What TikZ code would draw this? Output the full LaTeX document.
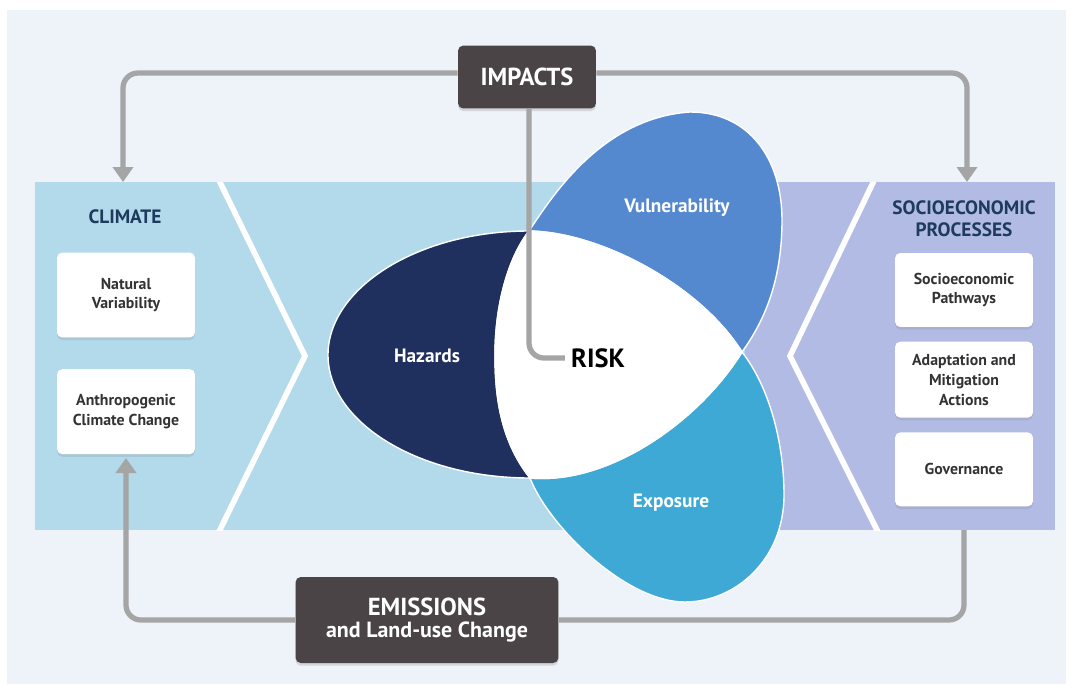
\documentclass[tikz,border=0pt]{standalone}
\usepackage{fontspec}
\setmainfont{PT Sans}
\usepackage{tikz}
\usetikzlibrary{arrows.meta,positioning,shadows}
\definecolor{panelbg}{HTML}{EEF2F9}
\definecolor{bandblue}{HTML}{B2DAEB}
\definecolor{bandlav}{HTML}{B1BBE4}
\definecolor{hazcol}{HTML}{1F2F5E}
\definecolor{vulcol}{HTML}{5589CF}
\definecolor{expcol}{HTML}{3EA9D5}
\definecolor{darkbox}{HTML}{4A4446}
\definecolor{linegray}{HTML}{A5A5A5}
\definecolor{titlecol}{HTML}{1E3A5C}
\definecolor{txtcol}{HTML}{333333}
\tikzset{
  blk/.style={fill=white, rounded corners=3pt, align=center, text=txtcol, minimum width=2.76cm,
    font=\bfseries\fontsize{9}{11.3}\selectfont, drop shadow={opacity=0.2, shadow xshift=0pt, shadow yshift=-1.5pt}},
  dark/.style={fill=darkbox, rounded corners=3pt, align=center, text=white,
    drop shadow={opacity=0.25, shadow xshift=0pt, shadow yshift=-1.5pt}},
  ttl/.style={font=\bfseries\fontsize{11}{12.5}\selectfont, text=titlecol, align=center},
  lbl/.style={font=\bfseries\fontsize{11}{13}\selectfont, text=white},
  petal/.style={draw=white, line width=0.8pt},
  chev/.style={draw=white, line width=3.2pt},
  ln/.style={draw=linegray, line width=3pt, rounded corners=0.3cm},
  fl/.style={ln, -{Triangle[length=0.3cm,width=0.4cm]}},
}
\begin{document}
\begin{tikzpicture}[x=0.02cm, y=-0.02cm]
\useasboundingbox (0,0) rectangle (1075,690);
\fill[white] (0,0) rectangle (1075,690);
\fill[panelbg] (7,10) rectangle (1066,684);
% bands
\fill[bandblue] (35,182) rectangle (745,530);
\fill[bandlav] (745,182) rectangle (1055,530);
\begin{scope}
  \clip (35,182) rectangle (1055,530);
  \draw[chev] (212,166) -- (305,356) -- (212,546);
  \draw[chev] (881,166) -- (790,356) -- (885,546);
\end{scope}
% petals
\coordinate (T) at (529,231);
\coordinate (R) at (742,352);
\coordinate (B) at (530,478);
\coordinate (L) at (495,355);
\path[fill=hazcol, petal] (T) .. controls (418,231) and (328,288) .. (328,355)
  .. controls (328,422) and (418,478) .. (B)
  .. controls (500,440) and (495,395) .. (L) .. controls (495,305) and (508,258) .. (T);
\path[fill=vulcol, petal] (T) .. controls (550,200) and (600,118) .. (690,112)
  .. controls (750,112) and (782,160) .. (782,220)
  .. controls (782,280) and (765,320) .. (R)
  .. controls (700,285) and (600,232) .. (T);
\path[fill=expcol, petal] (R) .. controls (768,385) and (784,440) .. (784,495)
  .. controls (784,560) and (735,602) .. (685,602)
  .. controls (625,602) and (548,525) .. (B)
  .. controls (610,485) and (700,420) .. (R);
\path[fill=white, petal] (T) .. controls (600,232) and (700,285) .. (R)
  .. controls (700,420) and (610,485) .. (B)
  .. controls (500,440) and (495,395) .. (L) .. controls (495,305) and (508,258) .. (T);
\node[lbl] (haz) at (427,356) {Hazards};
\node[lbl] (vul) at (677,208) {Vulnerability};
\node[lbl] (expo) at (671,503) {Exposure};
\node[font=\bfseries\fontsize{15}{17}\selectfont, text=black] (risk) at (598,358) {RISK};
% climate side
\node[ttl] (climate) at (125,217) {CLIMATE};
\node[blk, minimum height=1.7cm] (natvar) at (126,295) {Natural\\Variability};
\node[blk, minimum height=1.7cm, below=0.62cm of natvar] (anthro) {Anthropogenic\\Climate Change};
% socioeconomic side
\node[ttl] (socio) at (964,219) {SOCIOECONOMIC\\PROCESSES};
\node[blk, minimum height=1.48cm] (pathways) at (964,290) {Socioeconomic\\Pathways};
\node[blk, minimum height=1.52cm, below=0.28cm of pathways] (adapt) {Adaptation and\\Mitigation\\Actions};
\node[blk, minimum height=1.48cm, below=0.28cm of adapt] (gov) {Governance};
% drivers
\node[dark, minimum width=2.76cm, minimum height=1.26cm, font=\bfseries\fontsize{14}{16}\selectfont] (impacts) at (527,77) {IMPACTS};
\node[dark, minimum width=5.26cm, minimum height=1.72cm] (emis) at (427,620)
  {{\bfseries\fontsize{14}{19}\selectfont EMISSIONS}\\{\bfseries\fontsize{12.5}{15}\selectfont and Land-use Change}};
\coordinate (climin) at (123,182);
\coordinate (socin) at (967,182);
\coordinate (socout) at (964,530);
\draw[fl] ([yshift=0.08cm]impacts.west) -| (climin);
\draw[fl] ([yshift=0.08cm]impacts.east) -| (socin);
\draw[ln] ([xshift=0.04cm]impacts.south) |- (risk.west);
\draw[ln] (socout) |- (emis.east);
\draw[fl, shorten >=2pt] (emis.west) -| (anthro.south);
\end{tikzpicture}
\end{document}
